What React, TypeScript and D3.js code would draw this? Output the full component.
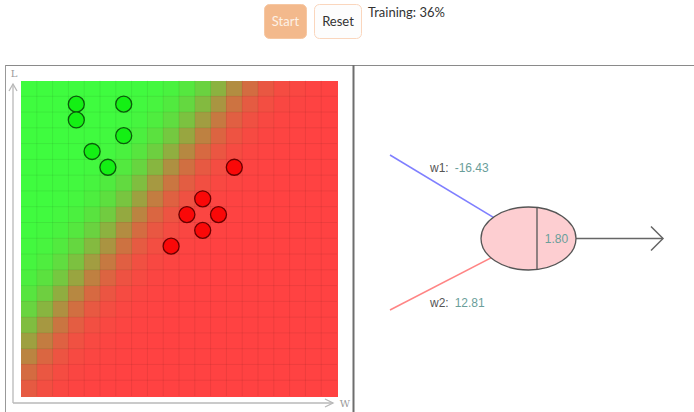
import React from "react";
import * as d3 from "d3";

// ---- data ----
const weightLabels = ["w1", "w2"];
const weights = [-16.43, 12.81];
const threshold = 1.8;
const trainingProgress = 36;
const buttonLabels = ["Start", "Reset"];

const greenW = [0.175, 0.325, 0.175, 0.325, 0.225, 0.275];
const greenL = [0.925, 0.925, 0.875, 0.825, 0.775, 0.725];
const redW = [0.675, 0.575, 0.525, 0.625, 0.575, 0.475];
const redL = [0.725, 0.625, 0.575, 0.575, 0.525, 0.475];

const axisLabels = ["W", "L"];
const GRID_N = 20;

const W = 694;
const H = 412;

export default function App() {
  const x = d3.scaleLinear().domain([0, 1]).range([21, 337]);
  const y = d3.scaleLinear().domain([0, 1]).range([396, 80.5]);
  const color = d3.interpolateRgb("#ff4242", "#3ffc3f");
  const sig = (z: number) => 1 / (1 + Math.exp(-z));

  const cells: { c: number; r: number; p: number }[] = [];
  const steps = d3.range(GRID_N);
  steps.forEach((r) =>
    steps.forEach((c) => {
      const wx = (c + 0.5) / GRID_N;
      const ly = 1 - (r + 0.5) / GRID_N;
      const p = sig(weights[0] * wx + weights[1] * ly - threshold);
      cells.push({ c, r, p });
    })
  );
  const cw = (x(1) - x(0)) / GRID_N;
  const ch = (y(0) - y(1)) / GRID_N;
  const gridLines = d3.range(1, GRID_N);

  // neuron geometry
  const ncx = 528.5;
  const ncy = 238.5;
  const inputs = [
    { x: 390, y: 155, stroke: "#7f7fff", lx: 430, ly: 172 },
    { x: 390, y: 310, stroke: "#ff8585", lx: 430, ly: 307 },
  ];

  const font = "Lato, 'Open Sans', sans-serif";
  const fmt = (v: number) => v.toFixed(2);

  return (
    <div style={{ position: "absolute", left: 0, top: 0, width: W, height: H }}>
      <svg width={W} height={H} style={{ display: "block" }}>
        <rect width={W} height={H} fill="#fff" />
        {/* controls */}
        <rect x={264.5} y={4.5} width={42} height={34} rx={5} fill="#f3b98c" stroke="#f6c7a2" />
        <text x={285.5} y={26} textAnchor="middle" fontFamily={font} fontSize={13} fill="#fdf1e6">
          {buttonLabels[0]}
        </text>
        <rect x={314.5} y={4.5} width={47} height={34} rx={5} fill="#fdfdfd" stroke="#fad6bd" />
        <text x={338} y={26} textAnchor="middle" fontFamily={font} fontSize={13} fill="#333">
          {buttonLabels[1]}
        </text>
        <text x={368} y={17} fontFamily={font} fontSize={13} fill="#333">
          {`Training: ${trainingProgress}%`}
        </text>

        {/* panel borders */}
        <line x1={5} x2={W} y1={65.5} y2={65.5} stroke="#8a8a8a" strokeWidth={1.2} />
        <line x1={5.5} x2={5.5} y1={65} y2={H} stroke="#999" strokeWidth={1} />
        <line x1={353.5} x2={353.5} y1={65} y2={H} stroke="#6e6e6e" strokeWidth={2} />

        {/* heatmap */}
        <g shapeRendering="crispEdges">
          {cells.map((d, i) => (
            <rect
              key={i}
              x={x(0) + d.c * cw}
              y={y(1) + d.r * ch}
              width={cw + 0.6}
              height={ch + 0.6}
              fill={color(d.p)}
            />
          ))}
        </g>
        <g stroke="rgba(0,0,0,0.07)" strokeWidth={1}>
          {gridLines.map((k) => (
            <line key={"v" + k} x1={x(0) + k * cw} x2={x(0) + k * cw} y1={y(1)} y2={y(0)} />
          ))}
          {gridLines.map((k) => (
            <line key={"h" + k} y1={y(1) + k * ch} y2={y(1) + k * ch} x1={x(0)} x2={x(1)} />
          ))}
        </g>

        {/* axes */}
        <g stroke="#b8b8b8" strokeWidth={1.3} fill="none">
          <line x1={13} x2={13} y1={84} y2={403} />
          <line x1={13} x2={333} y1={403} y2={403} />
          <polyline points="9,91 13,84 17,91" />
          <polyline points="325,399 333,403 325,407" />
        </g>
        <text x={14} y={77} textAnchor="middle" fontFamily="'DejaVu Serif', serif" fontSize={10} fill="#999">
          {axisLabels[1]}
        </text>
        <text x={345} y={407} textAnchor="middle" fontFamily="'DejaVu Serif', serif" fontSize={10} fill="#999">
          {axisLabels[0]}
        </text>

        {/* points */}
        {greenW.map((w, i) => (
          <circle key={"g" + i} cx={x(w)} cy={y(greenL[i])} r={8} fill="#14f014" stroke="#0b5a0b" strokeWidth={1.3} />
        ))}
        {redW.map((w, i) => (
          <circle key={"r" + i} cx={x(w)} cy={y(redL[i])} r={8} fill="#fa0808" stroke="#6a0000" strokeWidth={1.3} />
        ))}

        {/* neuron */}
        {inputs.map((d, i) => (
          <g key={"in" + i}>
            <line x1={d.x} y1={d.y} x2={ncx} y2={ncy} stroke={d.stroke} strokeWidth={1.5} />
            <text x={d.lx} y={d.ly} fontFamily="'Liberation Sans', Arial, sans-serif" fontSize={12}>
              <tspan fill="#555">{weightLabels[i] + ":"}</tspan>
              <tspan fill="#6a9e9a" dx={6}>{fmt(weights[i])}</tspan>
            </text>
          </g>
        ))}
        <line x1={ncx} y1={ncy} x2={663} y2={ncy} stroke="#666" strokeWidth={1.5} />
        <polyline points={`651,${ncy - 12} 663,${ncy} 651,${ncy + 12}`} stroke="#666" strokeWidth={1.5} fill="none" />
        <ellipse cx={ncx} cy={ncy} rx={47.5} ry={31.5} fill="#fdced1" stroke="#555" strokeWidth={1.3} />
        <line x1={537} x2={537} y1={ncy - 31.5} y2={ncy + 31.5} stroke="#555" strokeWidth={1.3} />
        <text x={556.5} y={243} textAnchor="middle" fontFamily="'Liberation Sans', Arial, sans-serif" fontSize={12} fill="#6a9e9a">
          {fmt(threshold)}
        </text>
      </svg>
    </div>
  );
}
